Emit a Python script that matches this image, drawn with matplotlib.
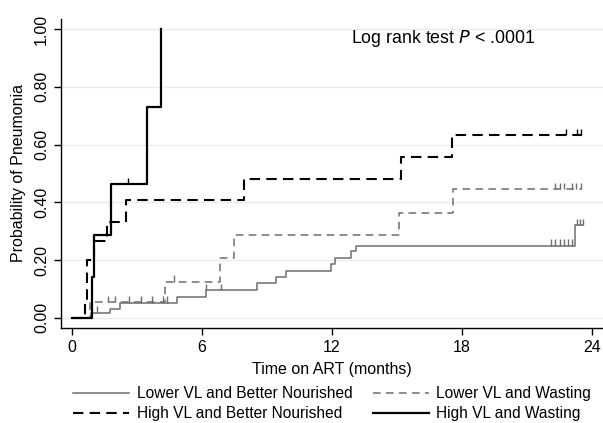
import numpy as np
import matplotlib
matplotlib.use("Agg")
import matplotlib.pyplot as plt
from matplotlib.lines import Line2D

plt.rcParams['font.family'] = ['Liberation Sans', 'DejaVu Sans']

# step curves (time in months, cumulative probability)
lvbn_t = [0, 0.9, 1.75, 2.2, 4.83, 6.18, 8.55, 9.41, 9.86, 11.95, 12.13, 12.87, 13.09, 23.2]
lvbn_p = [0, 0.018, 0.031, 0.053, 0.071, 0.097, 0.12, 0.14, 0.163, 0.186, 0.206, 0.23, 0.25, 0.32]
lvbn_end = 23.6
lvbn_cens = [1.14, 2.65, 3.2, 3.68, 4.2, 4.37, 6.2, 6.9,
             22.1, 22.3, 22.5, 22.7, 22.9, 23.05, 23.3, 23.45, 23.6]

lvw_t = [0, 0.83, 4.29, 6.83, 7.48, 15.09, 17.6]
lvw_p = [0, 0.054, 0.126, 0.209, 0.287, 0.364, 0.445]
lvw_end = 23.55
lvw_cens = [1.65, 2.0, 4.72, 22.3, 22.5, 22.7, 23.05, 23.25, 23.5]

hvbn_t = [0, 0.6, 0.68, 1.03, 1.6, 2.48, 7.95, 15.2, 17.55]
hvbn_p = [0, 0.067, 0.2, 0.267, 0.333, 0.407, 0.481, 0.556, 0.633]
hvbn_end = 23.55
hvbn_cens = [22.8, 23.3, 23.5]

hvw_t = [0, 0.94, 1.03, 1.79, 3.45, 4.12]
hvw_p = [0, 0.143, 0.286, 0.464, 0.732, 1.0]
hvw_end = 4.12
hvw_cens = [2.6]

labels = ["Lower VL and Better Nourished", "Lower VL and Wasting",
          "High VL and Better Nourished", "High VL and Wasting"]

fig = plt.figure(figsize=(6.03, 4.23), dpi=100)
ax = fig.add_axes([61/603, 1 - 328/423, 542/603, 309/423])

styles = [
    dict(color="#6e6e6e", lw=1.1, ls="-"),
    dict(color="#6e6e6e", lw=1.1, ls=(0, (5, 3.5))),
    dict(color="black", lw=1.5, ls=(0, (5, 3))),
    dict(color="black", lw=1.6, ls="-"),
]
curves = [(lvbn_t, lvbn_p, lvbn_end, lvbn_cens),
          (lvw_t, lvw_p, lvw_end, lvw_cens),
          (hvbn_t, hvbn_p, hvbn_end, hvbn_cens),
          (hvw_t, hvw_p, hvw_end, hvw_cens)]

for (t, p, end, cens), st in zip(curves, styles):
    tt = list(t) + [end]
    pp = list(p) + [p[-1]]
    ax.step(tt, pp, where="post", **st)
    # censoring ticks
    cy = [p[np.searchsorted(t, c, side="right") - 1] for c in cens]
    ax.vlines(cens, cy, np.array(cy) + 0.022, color=st["color"], lw=1.0)

ax.set_xlim(-0.5, 24.5)
ax.set_ylim(-0.035, 1.035)
ax.set_xticks([0, 6, 12, 18, 24])
ax.set_yticks([0, 0.2, 0.4, 0.6, 0.8, 1.0])
ax.set_yticklabels(["0.00", "0.20", "0.40", "0.60", "0.80", "1.00"],
                   rotation=90, va="center")
ax.tick_params(labelsize=11.5, direction="out", length=5, width=1)
ax.grid(axis="y", color="#ebebeb", lw=1)
ax.set_axisbelow(True)
for s in ["top", "right"]:
    ax.spines[s].set_visible(False)
ax.spines["left"].set_linewidth(1)
ax.spines["bottom"].set_linewidth(1)

ax.set_xlabel("Time on ART (months)", fontsize=11.5, labelpad=5)
ax.set_ylabel("Probability of Pneumonia", fontsize=11.5, labelpad=6)

ax.text(17.1, 0.969, "Log rank test $\\mathit{P}$ < .0001", fontsize=12.8,
        ha="center", va="center")

# legend, 2 x 2, row-major, laid out by hand
line_x = [(73, 129), (373, 429)]
text_x = [137, 436]
row_y = [393, 413]
for i, (lab, st) in enumerate(zip(labels, styles)):
    r, c = divmod(i, 2)
    y = 1 - row_y[r] / 423
    x0, x1 = line_x[c]
    fig.add_artist(Line2D([x0 / 603, x1 / 603], [y, y],
                          transform=fig.transFigure, **st))
    fig.text(text_x[c] / 603, y, lab, fontsize=11.2, va="center", ha="left")

fig.savefig("out.png", dpi=100)
